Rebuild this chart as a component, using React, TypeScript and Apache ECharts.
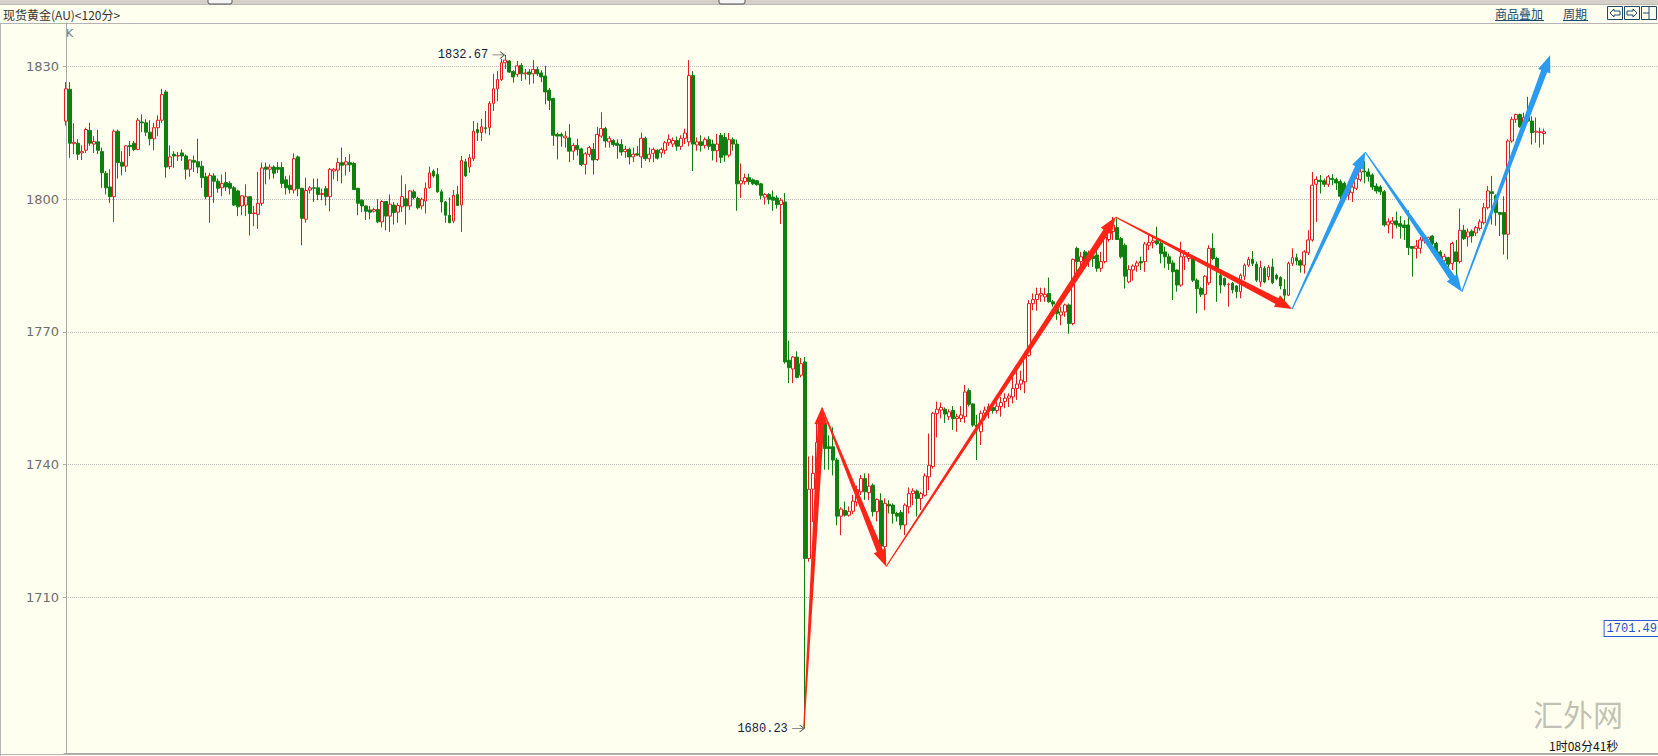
import React, { useEffect, useRef } from 'react';
import * as echarts from 'echarts';

// ---------- axis ----------
const Y_TICKS = [1710, 1740, 1770, 1800, 1830];
const Y_MIN = 1674.7;
const Y_MAX = 1839.9;
const SLOT_COUNT = 399;

// ---------- candles: [open, close, low, high] ----------
const SEG_A = [
  [1817.7, 1825.0, 1816.7, 1826.5], [1824.9, 1812.7, 1809.4, 1826.5], [1812.6, 1812.9, 1810.2, 1817.2], [1812.7, 1810.2, 1808.9, 1813.6],
  [1810.5, 1810.8, 1808.9, 1812.2], [1811.1, 1815.8, 1810.5, 1816.2], [1815.6, 1812.7, 1812.1, 1817.3], [1812.5, 1813.1, 1810.5, 1814.3],
  [1813.0, 1811.1, 1810.2, 1815.7], [1810.8, 1806.0, 1802.6, 1811.7], [1805.9, 1802.6, 1801.1, 1806.4], [1802.8, 1800.6, 1799.2, 1806.8],
  [1800.6, 1815.4, 1794.9, 1815.8], [1815.4, 1808.3, 1804.7, 1815.8], [1808.4, 1807.5, 1805.4, 1810.9], [1807.5, 1812.1, 1806.2, 1812.2],
  [1812.2, 1811.9, 1809.8, 1813.2], [1812.7, 1811.3, 1810.9, 1813.2], [1811.3, 1817.9, 1811.1, 1818.4], [1817.5, 1817.3, 1815.2, 1819.2],
  [1817.3, 1815.2, 1814.3, 1818.1], [1815.2, 1813.7, 1812.2, 1817.9], [1813.7, 1816.2, 1811.1, 1817.3], [1816.2, 1817.9, 1814.3, 1819.0],
  [1817.9, 1823.7, 1817.3, 1825.0], [1824.3, 1807.3, 1804.9, 1824.7], [1807.4, 1809.6, 1806.8, 1812.2], [1810.2, 1809.8, 1807.1, 1810.9],
  [1809.8, 1809.9, 1808.7, 1810.7], [1810.5, 1809.8, 1808.7, 1811.3], [1809.8, 1806.8, 1804.5, 1810.2], [1806.8, 1808.9, 1805.1, 1809.0],
  [1808.8, 1808.4, 1806.2, 1809.9], [1808.5, 1807.3, 1805.9, 1813.7], [1807.5, 1804.9, 1802.6, 1808.7], [1805.1, 1800.6, 1800.0, 1806.0],
  [1800.6, 1805.4, 1794.7, 1806.0], [1805.3, 1804.1, 1799.2, 1805.9], [1804.1, 1802.5, 1801.5, 1804.7], [1802.6, 1803.6, 1800.7, 1805.6],
  [1803.8, 1802.8, 1801.9, 1806.2], [1803.6, 1802.5, 1801.1, 1804.1], [1802.6, 1798.7, 1798.5, 1803.0], [1801.9, 1798.3, 1796.2, 1802.2],
  [1798.5, 1800.8, 1796.4, 1800.9], [1798.7, 1800.6, 1796.2, 1803.4], [1800.6, 1796.8, 1791.8, 1800.7], [1796.8, 1796.9, 1793.9, 1798.5],
  [1796.6, 1799.1, 1793.3, 1806.2], [1799.1, 1807.1, 1798.5, 1808.3], [1807.3, 1806.8, 1803.4, 1808.3],
];
const SEG_B = [
  [1806.8, 1807.3, 1804.5, 1807.9], [1807.3, 1805.9, 1804.7, 1807.7], [1807.2, 1806.8, 1806.0, 1808.4], [1807.2, 1803.6, 1802.6, 1808.4],
  [1804.4, 1802.6, 1801.1, 1805.3], [1803.2, 1802.2, 1801.3, 1805.4], [1802.1, 1809.2, 1801.3, 1810.4], [1809.6, 1802.4, 1800.7, 1809.9],
  [1802.5, 1795.7, 1789.6, 1802.6], [1795.5, 1802.0, 1794.7, 1804.9], [1802.1, 1802.6, 1801.3, 1803.0], [1802.6, 1802.5, 1799.4, 1804.7],
  [1802.6, 1801.1, 1799.8, 1804.7], [1801.1, 1801.3, 1799.8, 1802.4], [1802.4, 1800.6, 1798.6, 1803.0], [1800.6, 1806.8, 1797.3, 1807.1],
  [1806.4, 1806.8, 1804.5, 1807.1], [1806.6, 1808.3, 1804.1, 1809.4], [1808.3, 1807.7, 1803.6, 1811.7], [1807.8, 1808.5, 1805.4, 1809.6],
  [1808.3, 1807.8, 1806.2, 1810.2], [1808.1, 1802.2, 1802.1, 1808.4], [1802.5, 1799.1, 1796.4, 1802.6], [1799.8, 1798.5, 1797.1, 1800.0],
  [1798.5, 1797.3, 1795.3, 1798.6], [1797.6, 1797.1, 1795.5, 1798.5], [1797.3, 1797.7, 1797.0, 1798.1], [1797.7, 1794.9, 1794.6, 1800.0],
  [1794.9, 1799.5, 1793.6, 1799.8], [1799.5, 1796.2, 1793.0, 1799.6], [1796.2, 1798.9, 1792.6, 1801.1], [1798.7, 1797.0, 1794.3, 1799.4],
  [1797.1, 1798.6, 1794.7, 1799.2], [1798.3, 1800.6, 1797.1, 1805.4], [1800.1, 1798.5, 1794.3, 1803.4], [1798.5, 1801.9, 1797.6, 1802.1],
  [1801.7, 1800.4, 1800.0, 1802.2], [1800.2, 1798.1, 1797.7, 1800.6], [1798.5, 1800.0, 1797.7, 1800.4], [1799.6, 1802.5, 1796.8, 1803.8],
  [1802.6, 1806.0, 1802.4, 1807.4], [1806.4, 1805.3, 1804.9, 1806.8], [1805.6, 1801.7, 1801.5, 1807.1], [1801.7, 1799.4, 1797.0, 1802.2],
  [1799.4, 1796.4, 1794.7, 1799.6], [1796.4, 1794.7, 1794.6, 1800.4], [1795.1, 1800.9, 1794.6, 1802.1], [1801.1, 1798.6, 1798.5, 1803.0],
  [1798.7, 1808.8, 1792.6, 1809.8], [1808.5, 1805.3, 1805.1, 1809.2], [1807.3, 1809.4, 1806.0, 1810.2],
];
const SEG_C = [
  [1809.2, 1815.4, 1808.7, 1817.7], [1815.8, 1815.1, 1813.2, 1817.3], [1815.1, 1816.4, 1813.2, 1818.2], [1816.2, 1816.0, 1814.9, 1820.0],
  [1816.2, 1821.7, 1814.5, 1822.2], [1821.7, 1825.0, 1820.0, 1828.4], [1825.0, 1827.1, 1822.2, 1829.0], [1827.1, 1830.9, 1826.8, 1831.8],
  [1830.9, 1831.5, 1829.5, 1832.67], [1831.3, 1828.8, 1828.6, 1831.5], [1828.9, 1827.7, 1826.4, 1829.2], [1828.3, 1830.2, 1827.7, 1831.3],
  [1830.3, 1828.4, 1826.8, 1830.8], [1828.4, 1828.6, 1827.1, 1829.5], [1828.8, 1828.3, 1826.0, 1829.5], [1828.4, 1829.4, 1826.2, 1831.5],
  [1829.4, 1828.4, 1827.9, 1830.0], [1828.6, 1827.7, 1826.5, 1829.2], [1827.9, 1824.3, 1821.5, 1830.2], [1824.7, 1822.4, 1820.2, 1825.2],
  [1822.8, 1814.5, 1812.1, 1823.0], [1814.7, 1814.3, 1809.0, 1815.1], [1814.7, 1814.3, 1811.9, 1815.1], [1813.9, 1814.3, 1811.7, 1815.4],
  [1813.9, 1810.9, 1808.4, 1817.0], [1810.9, 1812.2, 1808.9, 1812.7], [1812.2, 1811.3, 1809.9, 1813.7], [1811.4, 1807.9, 1807.5, 1811.7],
  [1807.9, 1810.3, 1805.6, 1810.7], [1810.2, 1811.7, 1809.6, 1812.1], [1811.3, 1808.9, 1805.6, 1812.7], [1809.0, 1814.7, 1808.7, 1816.4],
  [1814.3, 1816.0, 1813.9, 1819.7], [1816.0, 1813.2, 1811.7, 1816.4], [1813.0, 1813.8, 1811.7, 1814.3], [1813.3, 1812.4, 1811.9, 1813.6],
  [1812.7, 1812.2, 1809.2, 1813.6], [1812.4, 1810.7, 1809.9, 1813.6], [1810.8, 1811.3, 1809.4, 1812.1], [1811.3, 1809.6, 1807.9, 1811.7],
  [1809.6, 1810.2, 1808.4, 1811.7], [1810.3, 1810.0, 1809.8, 1812.1], [1809.6, 1813.8, 1807.1, 1815.1], [1813.8, 1809.2, 1808.7, 1814.2],
  [1809.2, 1810.2, 1808.4, 1811.7], [1810.4, 1811.3, 1808.4, 1811.7], [1811.1, 1809.3, 1809.0, 1811.3], [1810.5, 1811.3, 1809.4, 1811.7],
  [1811.1, 1812.8, 1810.2, 1813.2], [1812.8, 1813.6, 1812.1, 1814.7],
];
const SEG_D = [
  [1812.5, 1813.3, 1811.8, 1814.0], [1813.3, 1812.0, 1811.0, 1814.2], [1812.0, 1813.8, 1811.2, 1814.5], [1813.8, 1815.0, 1812.5, 1816.0],
  [1813.0, 1828.0, 1812.0, 1831.5], [1828.0, 1812.5, 1806.4, 1829.0], [1812.3, 1813.0, 1811.0, 1814.0], [1813.0, 1812.2, 1810.8, 1814.5],
  [1812.2, 1813.5, 1811.5, 1814.0], [1813.5, 1812.0, 1811.2, 1814.3], [1812.5, 1811.0, 1808.8, 1813.5], [1811.0, 1812.5, 1808.4, 1814.8],
  [1814.5, 1809.5, 1808.2, 1815.0], [1814.0, 1810.0, 1808.5, 1815.0], [1810.0, 1813.5, 1809.5, 1815.0], [1813.5, 1812.5, 1811.0, 1814.0],
  [1812.5, 1803.5, 1797.4, 1813.5], [1803.5, 1804.2, 1800.3, 1808.1], [1804.0, 1804.9, 1803.3, 1805.8], [1804.9, 1804.0, 1803.3, 1805.8],
  [1804.4, 1803.5, 1803.2, 1804.7], [1804.2, 1803.3, 1803.1, 1804.4], [1803.5, 1800.9, 1800.0, 1803.7], [1800.5, 1801.1, 1798.8, 1801.4],
  [1801.1, 1800.0, 1798.9, 1801.4], [1800.5, 1799.8, 1797.4, 1802.0], [1800.3, 1798.8, 1797.9, 1800.9], [1798.8, 1799.8, 1794.4, 1800.3],
  [1799.4, 1763.2, 1762.8, 1801.4], [1763.6, 1761.9, 1758.4, 1768.0], [1761.6, 1764.3, 1758.4, 1764.5], [1764.3, 1759.7, 1759.5, 1765.6],
  [1760.2, 1762.8, 1759.7, 1764.1], [1763.2, 1718.7, 1680.23, 1764.3], [1718.7, 1734.4, 1718.0, 1741.8], [1734.4, 1738.0, 1727.0, 1742.0],
  [1738.0, 1745.0, 1735.0, 1750.0], [1745.0, 1748.5, 1741.5, 1751.0], [1749.3, 1743.6, 1738.8, 1750.1], [1744.0, 1743.6, 1738.8, 1746.6],
  [1744.0, 1741.0, 1737.5, 1748.4], [1741.0, 1728.3, 1726.2, 1741.5], [1728.3, 1729.9, 1724.0, 1730.3], [1729.6, 1728.5, 1728.2, 1731.6],
  [1728.5, 1729.4, 1728.2, 1730.5], [1729.4, 1731.7, 1728.8, 1733.1], [1731.5, 1734.3, 1730.5, 1735.2], [1733.8, 1736.8, 1733.1, 1737.6],
  [1736.8, 1733.8, 1732.0, 1738.0],
];
const SEG_E = [
  [1733.6, 1735.1, 1731.9, 1738.0], [1735.3, 1729.3, 1728.2, 1735.7], [1729.3, 1732.1, 1727.1, 1732.3], [1731.8, 1721.5, 1721.4, 1733.5],
  [1721.4, 1731.2, 1719.1, 1732.3], [1731.0, 1730.6, 1728.9, 1731.9], [1730.8, 1728.9, 1726.6, 1731.2], [1728.9, 1728.3, 1727.1, 1729.3],
  [1729.1, 1726.3, 1725.3, 1729.7], [1726.3, 1730.8, 1724.0, 1731.2], [1730.4, 1733.4, 1728.9, 1734.8], [1733.4, 1734.0, 1730.8, 1734.6],
  [1734.0, 1732.3, 1728.2, 1734.3], [1732.3, 1733.4, 1729.7, 1733.8], [1733.0, 1737.4, 1732.7, 1738.0], [1737.2, 1739.8, 1734.2, 1747.0],
  [1739.5, 1751.6, 1739.1, 1751.9], [1751.5, 1752.5, 1746.1, 1754.2], [1752.3, 1752.9, 1750.4, 1754.0], [1752.5, 1751.4, 1749.4, 1752.9],
  [1750.8, 1751.9, 1750.0, 1752.5], [1752.2, 1750.4, 1747.8, 1753.2], [1750.4, 1750.8, 1747.4, 1751.5], [1750.4, 1751.2, 1749.6, 1753.2],
  [1750.8, 1756.4, 1749.4, 1758.0], [1756.7, 1753.6, 1753.1, 1757.2], [1753.7, 1748.9, 1748.5, 1753.8], [1748.9, 1748.5, 1741.0, 1751.2],
  [1747.4, 1751.6, 1744.4, 1752.2], [1751.6, 1752.3, 1750.0, 1753.1], [1752.3, 1753.1, 1750.4, 1753.8], [1752.9, 1752.2, 1751.5, 1753.4],
  [1752.2, 1753.2, 1751.5, 1754.2], [1753.1, 1754.0, 1750.8, 1755.3], [1754.2, 1755.0, 1752.7, 1756.1], [1755.0, 1755.5, 1753.0, 1756.1],
  [1755.3, 1757.2, 1753.8, 1759.8], [1757.2, 1758.2, 1754.6, 1761.4], [1758.2, 1759.1, 1756.8, 1761.2], [1758.7, 1764.7, 1756.1, 1765.5],
  [1764.7, 1776.4, 1764.4, 1777.2], [1776.4, 1777.3, 1774.9, 1778.7], [1777.3, 1778.5, 1774.8, 1780.0], [1778.3, 1778.7, 1776.8, 1780.0],
  [1777.9, 1778.5, 1776.8, 1780.0], [1778.7, 1776.8, 1776.6, 1782.3], [1776.8, 1776.3, 1775.7, 1777.2], [1775.7, 1774.2, 1772.7, 1776.1],
  [1773.8, 1774.5, 1771.5, 1775.7], [1774.5, 1776.1, 1773.4, 1776.4], [1776.1, 1771.9, 1769.6, 1776.4],
];
const SEG_F = [
  [1771.9, 1786.4, 1771.5, 1786.6], [1788.9, 1785.9, 1782.1, 1789.3], [1785.9, 1787.0, 1784.4, 1788.1], [1788.1, 1786.0, 1784.4, 1788.5],
  [1787.0, 1787.9, 1784.7, 1788.4], [1787.2, 1786.6, 1784.7, 1787.8], [1787.4, 1784.4, 1783.6, 1788.5], [1784.4, 1785.9, 1783.6, 1788.1],
  [1785.9, 1791.5, 1785.5, 1793.2], [1790.9, 1793.0, 1790.4, 1794.5], [1792.7, 1794.2, 1790.8, 1796.0], [1793.6, 1790.9, 1790.8, 1795.7],
  [1791.1, 1787.0, 1786.6, 1791.5], [1789.6, 1782.6, 1779.8, 1790.0], [1781.3, 1784.1, 1781.0, 1785.1], [1784.0, 1784.9, 1781.6, 1785.3],
  [1784.9, 1785.6, 1783.6, 1786.1], [1785.9, 1785.6, 1784.0, 1787.0], [1785.9, 1789.9, 1783.6, 1790.4], [1789.6, 1790.2, 1788.5, 1791.9],
  [1790.2, 1790.6, 1788.9, 1791.5], [1790.6, 1790.0, 1789.6, 1793.8], [1790.0, 1787.7, 1785.5, 1790.4], [1788.1, 1787.0, 1784.4, 1789.3],
  [1787.0, 1785.5, 1784.0, 1787.7], [1785.6, 1783.6, 1777.2, 1786.2], [1784.0, 1780.6, 1779.1, 1784.1], [1780.6, 1787.0, 1780.2, 1790.4],
  [1787.0, 1787.7, 1784.0, 1788.5], [1786.6, 1787.4, 1785.9, 1788.1], [1786.6, 1781.7, 1781.3, 1787.4], [1781.7, 1779.8, 1774.2, 1782.1],
  [1779.8, 1778.5, 1777.9, 1780.2], [1778.5, 1782.6, 1774.9, 1782.8], [1781.1, 1788.9, 1780.6, 1789.6], [1788.9, 1786.6, 1786.2, 1792.3],
  [1786.6, 1784.0, 1776.8, 1787.0], [1782.8, 1780.6, 1778.7, 1783.2], [1782.1, 1780.6, 1780.2, 1782.3], [1780.7, 1780.8, 1775.7, 1781.1],
  [1781.0, 1779.5, 1778.7, 1781.3], [1780.4, 1779.1, 1777.6, 1780.6], [1779.1, 1782.8, 1777.6, 1783.2], [1782.6, 1785.1, 1781.7, 1785.5],
  [1785.1, 1786.4, 1784.7, 1787.0], [1786.4, 1785.5, 1784.9, 1788.3], [1785.3, 1781.7, 1781.3, 1785.9], [1781.3, 1784.6, 1780.2, 1786.1],
  [1784.4, 1781.3, 1781.0, 1784.9], [1782.5, 1784.6, 1781.7, 1785.1],
];
const SEG_G = [
  [1784.7, 1781.1, 1780.8, 1786.6], [1782.8, 1782.1, 1781.7, 1783.2], [1782.3, 1780.4, 1779.6, 1782.6], [1779.6, 1778.3, 1776.4, 1781.9],
  [1778.3, 1785.5, 1778.1, 1785.9], [1785.5, 1786.8, 1784.9, 1788.9], [1786.8, 1786.1, 1785.1, 1787.7], [1786.1, 1785.1, 1783.4, 1786.4],
  [1785.1, 1788.1, 1783.2, 1788.5], [1787.9, 1790.8, 1787.4, 1793.0], [1790.8, 1803.2, 1790.4, 1806.2], [1803.4, 1804.5, 1794.9, 1805.2],
  [1804.3, 1804.0, 1801.3, 1805.5], [1804.2, 1803.4, 1802.8, 1804.7], [1803.4, 1805.1, 1802.8, 1805.5], [1804.7, 1804.5, 1803.2, 1805.7],
  [1804.5, 1803.7, 1802.1, 1804.9], [1804.0, 1800.7, 1800.0, 1804.5], [1803.6, 1801.0, 1799.4, 1804.0], [1801.0, 1802.1, 1799.8, 1803.2],
  [1801.5, 1802.8, 1799.4, 1803.6], [1802.5, 1804.7, 1802.1, 1805.5], [1804.5, 1806.2, 1804.0, 1807.4], [1806.4, 1806.2, 1803.6, 1808.7],
  [1806.2, 1805.2, 1804.0, 1807.0], [1805.5, 1802.8, 1802.1, 1805.9], [1803.0, 1801.9, 1801.3, 1803.6], [1802.8, 1801.7, 1801.0, 1803.2],
  [1801.7, 1794.2, 1793.8, 1802.1], [1794.2, 1794.9, 1792.3, 1795.7], [1794.5, 1795.1, 1791.1, 1796.0], [1795.1, 1794.2, 1793.4, 1797.2],
  [1794.5, 1793.9, 1791.1, 1796.2], [1794.2, 1793.6, 1790.8, 1795.3], [1794.2, 1789.1, 1787.4, 1797.5], [1789.3, 1788.9, 1782.5, 1789.4],
  [1788.9, 1789.4, 1786.6, 1790.8], [1788.9, 1790.8, 1787.7, 1791.5], [1790.6, 1791.4, 1790.0, 1791.9], [1790.8, 1791.4, 1790.0, 1791.5],
  [1791.7, 1790.0, 1789.6, 1791.9], [1790.0, 1787.9, 1787.1, 1790.4], [1788.1, 1786.6, 1785.9, 1788.5], [1786.1, 1787.1, 1785.1, 1787.7],
  [1786.8, 1785.3, 1784.4, 1787.0], [1785.5, 1790.0, 1784.0, 1790.4], [1788.1, 1785.9, 1781.7, 1790.8], [1785.9, 1793.0, 1785.5, 1797.9],
  [1793.0, 1791.1, 1790.8, 1794.2], [1791.5, 1792.6, 1789.3, 1793.4],
];
const SEG_H = [
  [1792.8, 1791.7, 1790.2, 1793.2], [1792.4, 1793.6, 1791.7, 1794.0], [1793.4, 1794.9, 1792.9, 1795.5], [1794.7, 1798.1, 1794.3, 1799.2],
  [1798.1, 1801.9, 1797.7, 1803.0], [1801.7, 1801.3, 1794.3, 1805.3], [1800.8, 1797.0, 1794.0, 1801.1], [1797.0, 1796.6, 1791.7, 1797.1],
  [1797.0, 1792.1, 1787.5, 1800.7], [1792.1, 1813.2, 1786.4, 1813.6], [1813.2, 1818.1, 1812.8, 1818.7], [1818.1, 1819.2, 1817.3, 1819.4],
  [1819.2, 1816.4, 1816.2, 1819.4], [1817.3, 1818.5, 1816.4, 1819.6], [1818.7, 1817.7, 1817.3, 1823.2], [1817.7, 1815.1, 1812.4, 1818.8],
  [1815.2, 1815.4, 1812.8, 1818.5], [1815.1, 1815.3, 1811.7, 1816.2], [1814.9, 1815.3, 1812.4, 1816.0],
];
const CANDLES = [...SEG_A, ...SEG_B, ...SEG_C, ...SEG_D, ...SEG_E, ...SEG_F, ...SEG_G, ...SEG_H];

// ---------- annotations ----------
const HIGH_MARK = { index: 110, value: 1832.67, label: '1832.67' };
const LOW_MARK = { index: 185, value: 1680.23, label: '1680.23' };
const LAST_PRICE = 1701.49;

// trend arrows: [fromIndex, fromPrice, toIndex, toPrice]
const RED_ARROWS = [
  [184.7, 1680.5, 189.2, 1752.9],
  [189.2, 1752.9, 205.3, 1716.9],
  [205.3, 1716.9, 262.7, 1796.0],
  [262.7, 1796.0, 306.9, 1775.2],
];
const BLUE_ARROWS = [
  [306.9, 1775.2, 325.2, 1810.7],
  [325.2, 1810.7, 349.4, 1779.1],
  [349.4, 1779.1, 371.5, 1832.6],
];

const BG = '#ffffef';
const UP = '#e31c22';
const DOWN = '#0f7f10';
const RED_ARROW = '#ff2418';
const BLUE_ARROW = '#2b9bf0';
const NUM_FONT = '"Liberation Mono", "DejaVu Sans Mono", monospace';
const AXIS_FONT = '"DejaVu Sans", sans-serif';
const CJK_FONT = '"Noto Sans CJK SC", "Noto Sans", sans-serif';

function renderArrow(params: any, api: any) {
  const p1 = api.coord([api.value(0), api.value(1)]);
  const p2 = api.coord([api.value(2), api.value(3)]);
  const color = api.value(4) === 0 ? RED_ARROW : BLUE_ARROW;
  const dx = p2[0] - p1[0];
  const dy = p2[1] - p1[1];
  const len = Math.hypot(dx, dy) || 1;
  const ux = dx / len, uy = dy / len;
  const nx = -uy, ny = ux;
  const headLen = 17, headW = 6.5, w0 = 0.6, w1 = 3.2;
  const bx = p2[0] - ux * headLen, by = p2[1] - uy * headLen;
  const points = [
    [p1[0] + nx * w0, p1[1] + ny * w0],
    [bx + nx * w1, by + ny * w1],
    [bx + nx * headW, by + ny * headW],
    [p2[0], p2[1]],
    [bx - nx * headW, by - ny * headW],
    [bx - nx * w1, by - ny * w1],
    [p1[0] - nx * w0, p1[1] - ny * w0],
  ];
  return { type: 'polygon', shape: { points }, style: { fill: color } };
}

function txt(x: number, y: number, text: string, font: string, fill: string) {
  return {
    type: 'text', x, y, silent: true,
    style: { text, font, fill, verticalAlign: 'middle', textVerticalAlign: 'middle' },
  };
}

export default function App() {
  const ref = useRef<HTMLDivElement>(null);
  useEffect(() => {
    document.body.style.margin = '0';
    if (!ref.current) return;
    const chart = echarts.init(ref.current, undefined, { renderer: 'svg' });
    const categories = Array.from({ length: SLOT_COUNT }, (_, i) => String(i));
    const arrowData = [
      ...RED_ARROWS.map((a) => [...a, 0]),
      ...BLUE_ARROWS.map((a) => [...a, 1]),
    ];
    const arrowSymbol = 'path://M0,4L11,4M7,1L11,4L7,7';
    const iconStroke = '#1b4a6b';
    chart.setOption({
      animation: false,
      backgroundColor: BG,
      tooltip: { show: false },
      grid: { left: 64, right: 0, top: 23, bottom: 3, containLabel: false },
      xAxis: [
        {
          type: 'category', data: categories, boundaryGap: true,
          axisLine: { show: true, lineStyle: { color: '#a8a8a8' } },
          axisTick: { show: false }, axisLabel: { show: false }, splitLine: { show: false },
        },
        { type: 'value', min: -0.5, max: SLOT_COUNT - 0.5, show: false },
      ],
      yAxis: {
        type: 'value', min: Y_MIN, max: Y_MAX, position: 'left', scale: true,
        axisLine: { show: true, lineStyle: { color: '#a8a8a8' } },
        axisTick: { show: true, customValues: Y_TICKS, length: 4, lineStyle: { color: '#a0a0a0', type: 'dotted' } },
        axisLabel: {
          customValues: Y_TICKS, color: '#6e6e6e', fontFamily: AXIS_FONT, fontSize: 13, margin: 5,
          formatter: (v: number) => String(Math.round(v)),
        },
        splitLine: { show: true, lineStyle: { color: '#b8b8b8', type: 'dotted', width: 1 } },
      },
      series: [
        {
          type: 'candlestick', name: 'K', data: CANDLES, barWidth: 3.4,
          itemStyle: { color: BG, color0: DOWN, borderColor: UP, borderColor0: DOWN, borderWidth: 1 },
          markPoint: {
            silent: true,
            symbol: arrowSymbol, symbolSize: [12, 7], symbolOffset: [-7, 0], symbolKeepAspect: false,
            itemStyle: { color: 'none', borderColor: '#666', borderWidth: 1 },
            label: { show: true, position: 'left', distance: 1, color: '#14213f', fontFamily: NUM_FONT, fontSize: 12 },
            data: [
              { coord: [HIGH_MARK.index, HIGH_MARK.value], label: { formatter: HIGH_MARK.label } },
              { coord: [LOW_MARK.index, LOW_MARK.value], label: { formatter: LOW_MARK.label } },
              {
                coord: [SLOT_COUNT - 1, LAST_PRICE], symbol: 'rect', symbolSize: 0, symbolOffset: [0, 0],
                label: {
                  formatter: String(LAST_PRICE), position: 'left', distance: 0, offset: [2, -6],
                  color: '#1f4fd0', borderColor: '#2a5bd7', borderWidth: 1, padding: [2, 1, 1, 2], backgroundColor: BG,
                },
              },
            ],
          },
          z: 2,
        },
        {
          type: 'custom', xAxisIndex: 1, yAxisIndex: 0, renderItem: renderArrow, data: arrowData,
          clip: false, silent: true, z: 5,
        },
      ],
      graphic: [
        { type: 'rect', silent: true, shape: { x: 0, y: 0, width: 1658, height: 4 }, style: { fill: '#d4d0c8' } },
        { type: 'line', silent: true, shape: { x1: 0, y1: 4.5, x2: 1658, y2: 4.5 }, style: { stroke: '#bdbab3', lineWidth: 1 } },
        { type: 'rect', silent: true, shape: { x: 208, y: -3, width: 24, height: 7, r: 2 }, style: { fill: '#f4f4f4', stroke: '#555' } },
        { type: 'rect', silent: true, shape: { x: 719, y: -3, width: 26, height: 7, r: 2 }, style: { fill: '#f4f4f4', stroke: '#555' } },
        txt(3, 14, '现货黄金(AU)<120分>', '12px ' + CJK_FONT, '#333'),
        { type: 'line', silent: true, shape: { x1: 0, y1: 23.5, x2: 1658, y2: 23.5 }, style: { stroke: '#b4b4b4', lineWidth: 1 } },
        txt(1495, 13, '商品叠加', '12px ' + CJK_FONT, '#1b4a6b'),
        { type: 'line', silent: true, shape: { x1: 1495, y1: 20.5, x2: 1544, y2: 20.5 }, style: { stroke: '#1b4a6b', lineWidth: 1 } },
        txt(1563, 13, '周期', '12px ' + CJK_FONT, '#1b4a6b'),
        { type: 'line', silent: true, shape: { x1: 1563, y1: 20.5, x2: 1588, y2: 20.5 }, style: { stroke: '#1b4a6b', lineWidth: 1 } },
        { type: 'rect', silent: true, shape: { x: 1607.5, y: 6.5, width: 15, height: 13 }, style: { fill: 'none', stroke: iconStroke } },
        { type: 'polygon', silent: true, shape: { points: [[1610, 13], [1614, 9], [1614, 11], [1620, 11], [1620, 15], [1614, 15], [1614, 17]] }, style: { fill: 'none', stroke: iconStroke } },
        { type: 'rect', silent: true, shape: { x: 1624.5, y: 6.5, width: 15, height: 13 }, style: { fill: 'none', stroke: iconStroke } },
        { type: 'polygon', silent: true, shape: { points: [[1637, 13], [1633, 9], [1633, 11], [1627, 11], [1627, 15], [1633, 15], [1633, 17]] }, style: { fill: 'none', stroke: iconStroke } },
        { type: 'rect', silent: true, shape: { x: 1641.5, y: 6.5, width: 15, height: 13 }, style: { fill: 'none', stroke: iconStroke } },
        { type: 'line', silent: true, shape: { x1: 1649, y1: 7, x2: 1649, y2: 19 }, style: { stroke: iconStroke } },
        { type: 'line', silent: true, shape: { x1: 1643, y1: 13, x2: 1649, y2: 13 }, style: { stroke: iconStroke } },
        txt(66, 33, 'K', '11px "DejaVu Sans", sans-serif', '#777'),
        { type: 'line', silent: true, shape: { x1: 0.5, y1: 23, x2: 0.5, y2: 756 }, style: { stroke: '#b4b4b4' } },
        { type: 'line', silent: true, shape: { x1: 0, y1: 754.5, x2: 1658, y2: 754.5 }, style: { stroke: '#b4b4b4' } },
        txt(1533, 713, '汇外网', '30px ' + CJK_FONT, 'rgba(150,150,140,0.6)'),
        txt(1549, 745, '1时08分41秒', '12px ' + CJK_FONT, '#111'),
      ],
    });
    return () => chart.dispose();
  }, []);
  return <div ref={ref} style={{ position: 'relative', width: 1658, height: 756 }} />;
}
